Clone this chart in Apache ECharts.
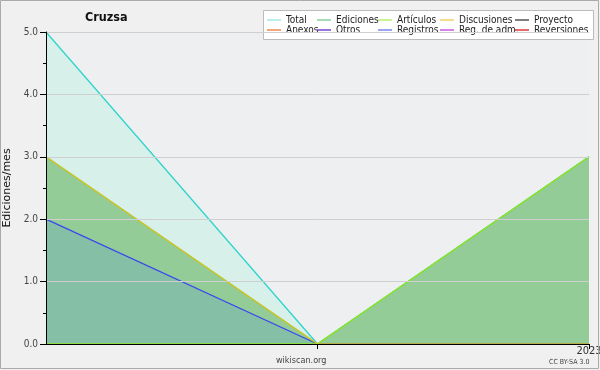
<!DOCTYPE html>
<html><head><meta charset="utf-8">
<script src="https://cdn.jsdelivr.net/npm/echarts@6/dist/echarts.min.js"></script>
<style>html,body{margin:0;padding:0;background:#f0f0f0}#c{width:600px;height:370px}</style>
</head><body><div id="c"></div>
<script>
var categories = ['2022-11', '2022-12', '2023-01'];
var tickLabels = {'2023-01': '2023'};
var total = [5, 0, 3];
var ediciones = [3, 0, 3];
var articulos = [0, 0, 3];
var discusiones = [3, 0, 0];
var proyecto = [0, 0, 0];
var anexos = [0, 0, 0];
var otros = [0, 0, 0];
var registros = [2, 0, 0];
var regAdm = [0, 0, 0];
var reversiones = [0, 0, 0];

var font = '"DejaVu Sans Condensed", "DejaVu Sans", sans-serif';
var chart = echarts.init(document.getElementById('c'), null, {renderer: 'canvas'});

function s(name, data, legendColor, lineColor, area, z, show) {
  var o = {
    name: name, type: 'line', data: data, symbol: 'none', z: z,
    itemStyle: {color: legendColor},
    lineStyle: {color: lineColor, width: 1.3, opacity: show ? 1 : 0},
    emphasis: {disabled: true}, animation: false
  };
  if (area) o.areaStyle = {color: area, opacity: 1};
  return o;
}

function leg(names, left) {
  return {
    data: names, orient: 'vertical', left: left, top: 15, itemGap: 0,
    icon: 'rect', itemWidth: 14, itemHeight: 1.5,
    textStyle: {fontFamily: font, fontSize: 10, color: '#222', padding: [0, 0, 0, 0], lineHeight: 10},
    padding: 0, selectedMode: false
  };
}

chart.setOption({
  backgroundColor: '#f0f0f0',
  animation: false,
  title: {text: 'Cruzsa', left: 85, top: 11, padding: 0,
    textStyle: {fontFamily: font, fontSize: 12.5, fontWeight: 'bold', color: '#111'}},
  graphic: [
    {type: 'rect', shape: {x: 0.5, y: 0.5, width: 598, height: 368},
      style: {fill: null, stroke: '#aaaaaa', lineWidth: 1}, z: 100},
    {type: 'rect', shape: {x: 263.5, y: 10.5, width: 330, height: 29},
      style: {fill: '#ffffff', stroke: '#bbbbbb', lineWidth: 1}, z: 0},
    {type: 'text', left: 276, top: 356, style: {text: 'wikiscan.org', fontFamily: font, fontSize: 9, fill: '#444'}},
    {type: 'text', left: 549, top: 359, style: {text: 'CC BY-SA 3.0', fontFamily: font, fontSize: 7, fill: '#444'}}
  ],
  legend: [
    leg(['Total', 'Anexos'], 267),
    leg(['Ediciones', 'Otros'], 317),
    leg(['Artículos', 'Registros'], 378),
    leg(['Discusiones', 'Reg. de adm.'], 440),
    leg(['Proyecto', 'Reversiones'], 515)
  ],
  grid: {left: 46, right: 11, top: 32, bottom: 26, show: true, backgroundColor: '#eeeff1', borderWidth: 0,
    outerBoundsMode: 'none', containLabel: false},
  xAxis: {
    type: 'category', data: categories, boundaryGap: false, z: 10,
    axisLine: {lineStyle: {color: '#000', width: 1}},
    axisTick: {show: true, length: 5, interval: function (i) { return i > 0; }, lineStyle: {color: '#000'}},
    axisLabel: {formatter: function (v) { return tickLabels[v] || ''; }, interval: 0,
      fontFamily: font, fontSize: 11, color: '#333', margin: 2},
    splitLine: {show: false}
  },
  yAxis: {
    type: 'value', min: 0, max: 5, interval: 1, z: 10,
    name: 'Ediciones/mes', nameLocation: 'middle', nameGap: 29,
    nameTextStyle: {fontFamily: '"DejaVu Sans", sans-serif', fontSize: 11, color: '#111'},
    axisLine: {show: true, lineStyle: {color: '#000', width: 1}},
    axisTick: {show: true, length: 6, lineStyle: {color: '#000'}},
    minorTick: {show: true, splitNumber: 2, length: 3, lineStyle: {color: '#000'}},
    axisLabel: {formatter: function (v) { return v.toFixed(1); }, fontFamily: font, fontSize: 10, color: '#444', margin: 8},
    splitLine: {show: true, lineStyle: {color: '#cfcfcf', width: 1}}
  },
  series: [
    s('Total', total, '#a8e8e2', '#30d4cc', '#d8f0ea', 2, true),
    s('Ediciones', ediciones, '#88d098', '#70c888', '#93cc96', 3, true),
    s('Artículos', articulos, '#b8f070', '#8ce81c', null, 6, true),
    s('Discusiones', discusiones, '#f5d06a', '#d8c418', null, 7, true),
    s('Proyecto', proyecto, '#555555', '#555555', null, 1, false),
    s('Anexos', anexos, '#f08a50', '#f08a50', null, 1, false),
    s('Otros', otros, '#7848d0', '#7848d0', null, 1, false),
    s('Registros', registros, '#7888f0', '#3a48f0', '#85bfa5', 5, true),
    s('Reg. de adm.', regAdm, '#c858e0', '#c858e0', null, 1, false),
    s('Reversiones', reversiones, '#e03838', '#e03838', null, 1, false)
  ]
});
</script></body></html>
